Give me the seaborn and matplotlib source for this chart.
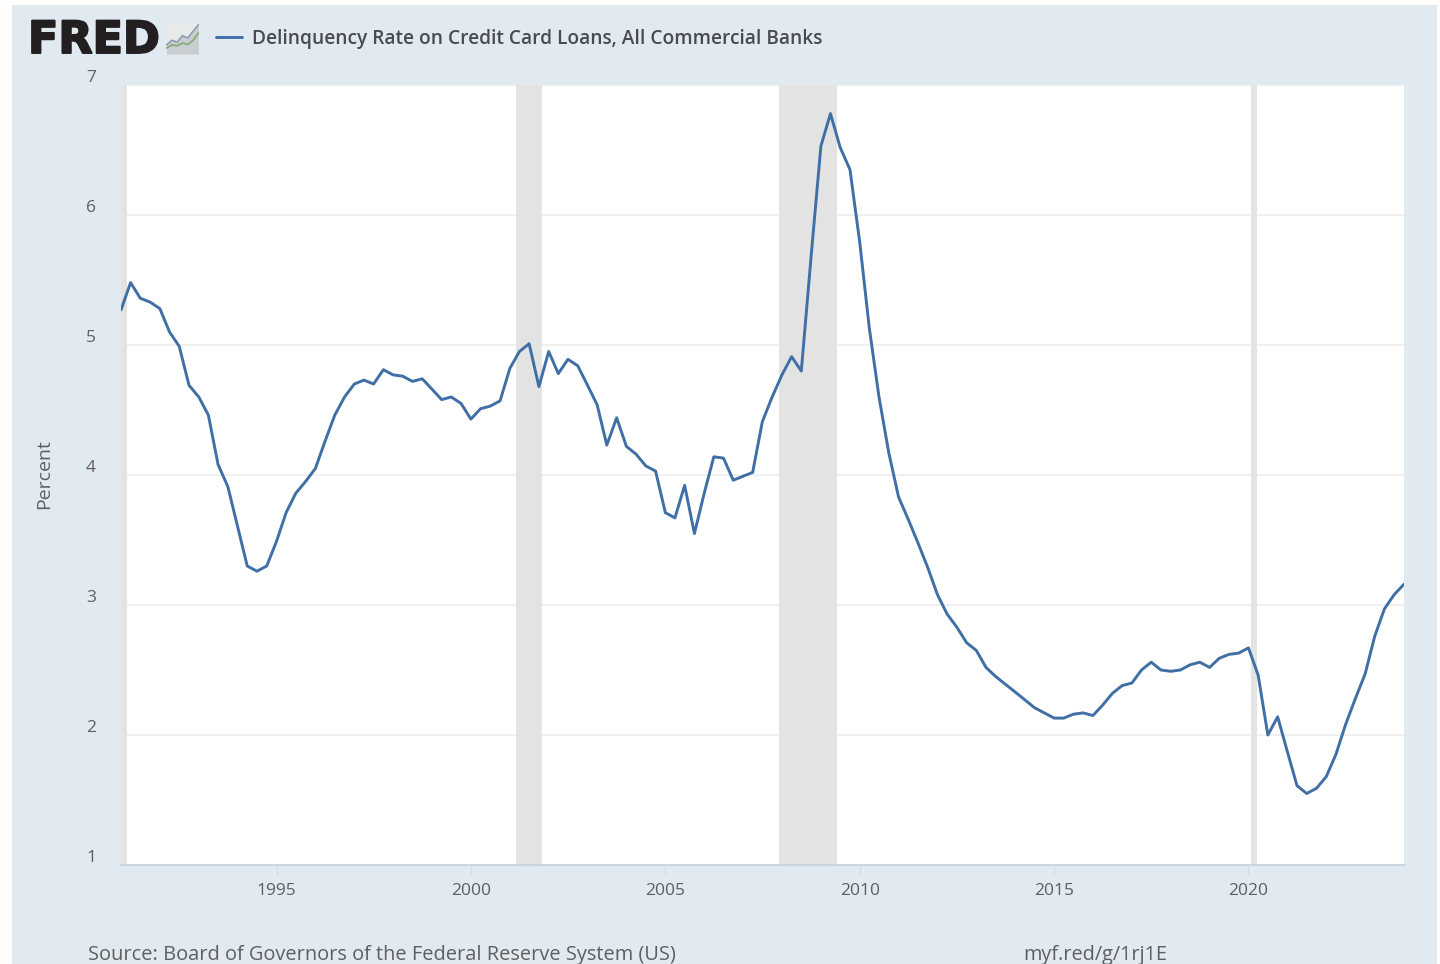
import numpy as np
import pandas as pd
import matplotlib
matplotlib.use("Agg")
import matplotlib.pyplot as plt
import matplotlib.dates as mdates
import matplotlib.patheffects as pe
from matplotlib.patches import Rectangle
from matplotlib.transforms import ScaledTranslation
import seaborn as sns

# quarterly readings, 1991Q1 to 2024Q1
rate = [
    5.27, 5.48, 5.36, 5.33,
    5.28, 5.10, 4.99, 4.69,
    4.60, 4.46, 4.08, 3.91,
    3.60, 3.30, 3.26, 3.30,
    3.49, 3.71, 3.86, 3.95,
    4.05, 4.26, 4.46, 4.60,
    4.70, 4.73, 4.70, 4.81,
    4.77, 4.76, 4.72, 4.74,
    4.66, 4.58, 4.60, 4.55,
    4.43, 4.51, 4.53, 4.57,
    4.82, 4.95, 5.01, 4.68,
    4.95, 4.78, 4.89, 4.84,
    4.69, 4.54, 4.23, 4.44,
    4.22, 4.16, 4.07, 4.03,
    3.71, 3.67, 3.92, 3.55,
    3.86, 4.14, 4.13, 3.96,
    3.99, 4.02, 4.41, 4.60,
    4.77, 4.91, 4.80, 5.68,
    6.53, 6.78, 6.52, 6.35,
    5.79, 5.13, 4.60, 4.17,
    3.83, 3.66, 3.48, 3.29,
    3.08, 2.93, 2.83, 2.71,
    2.65, 2.52, 2.45, 2.39,
    2.33, 2.27, 2.21, 2.17,
    2.13, 2.13, 2.16, 2.17,
    2.15, 2.23, 2.32, 2.38,
    2.40, 2.50, 2.56, 2.50,
    2.49, 2.50, 2.54, 2.56,
    2.52, 2.59, 2.62, 2.63,
    2.67, 2.46, 2.00, 2.14,
    1.87, 1.61, 1.55, 1.59,
    1.68, 1.85, 2.08, 2.28,
    2.47, 2.76, 2.97, 3.08,
    3.16,
]
recession_start = ["1990-07-01", "2001-03-01", "2007-12-01", "2020-01-20"]
recession_end = ["1991-03-01", "2001-11-01", "2009-06-01", "2020-03-25"]
year_ticks = [1995, 2000, 2005, 2010, 2015, 2020]
pct_ticks = [1, 2, 3, 4, 5, 6, 7]
series_name = "Delinquency Rate on Credit Card Loans, All Commercial Banks"
source_text = "Source: Board of Governors of the Federal Reserve System (US)"
short_url = "myf.red/g/1rj1E"

# little logo chart
icon_a = [1.2, 2.2, 1.8, 3.2, 2.7, 4.2, 5.6]
icon_b = [0.5, 1.2, 1, 1.6, 1.3, 2.2, 3.8]

W, H = 1440, 964
PANEL = "#e1e9f1"
BLUE = "#406fa6"
TEXT = "#5f5f5f"

df = pd.DataFrame({
    "date": pd.date_range("1991-01-01", periods=len(rate), freq="QS"),
    "rate": rate,
})

sns.set_theme(style="white")
plt.rcParams["font.family"] = ["Open Sans", "DejaVu Sans"]


def fig_box(left, top, right, bottom):
    return [left / W, 1 - bottom / H, (right - left) / W, (bottom - top) / H]


fig = plt.figure(figsize=(W / 100, H / 100), dpi=100, facecolor="#fffefc")
fig.patches.append(Rectangle((12 / W, 0), 1425 / W, 1 - 5 / H, transform=fig.transFigure,
                             facecolor=PANEL, edgecolor="none", zorder=-5))

ax = fig.add_axes(fig_box(121, 85, 1404, 865))
ax.set_facecolor("white")

sns.lineplot(data=df, x="date", y="rate", color=BLUE, linewidth=2.1, ax=ax,
             label=series_name, zorder=5)

for a, b in zip(recession_start, recession_end):
    ax.axvspan(pd.Timestamp(a), pd.Timestamp(b), color="#e3e3e3", lw=0, zorder=2)

ax.set_xlim(pd.Timestamp("1991-01-01"), pd.Timestamp("2024-01-01"))
ax.set_ylim(1, 7)
ax.set_xticks([pd.Timestamp(f"{y}-01-01") for y in year_ticks])
ax.xaxis.set_major_formatter(mdates.DateFormatter("%Y"))
ax.set_yticks(pct_ticks)
ax.grid(axis="y", color="#eeeeee", lw=1.2, zorder=1)
ax.set_axisbelow(True)
for s in ["top", "right", "left"]:
    ax.spines[s].set_visible(False)
ax.spines["bottom"].set_color("#c5d2e0")
ax.spines["bottom"].set_linewidth(1.2)
ax.tick_params(axis="x", length=7, width=1, color="#d3dde8", labelsize=12.5,
               labelcolor=TEXT, pad=6, bottom=True)
ax.tick_params(axis="y", length=0, labelsize=12.5, labelcolor=TEXT, pad=18)
# y labels sit above their gridline
for lab in ax.get_yticklabels():
    lab.set_transform(lab.get_transform() + ScaledTranslation(0, 9 / 100, fig.dpi_scale_trans))

ax.set_xlabel("")
ax.set_ylabel("Percent", fontsize=14, color=TEXT, labelpad=0)
ax.yaxis.set_label_coords(44 / W, 1 - 474 / H, transform=fig.transFigure)
ax.yaxis.label.set_va("center")

leg = ax.legend(loc="center left", bbox_to_anchor=(206 / W, 1 - 39 / H),
                bbox_transform=fig.transFigure, frameon=False, fontsize=13.75,
                handlelength=1.4, handletextpad=0.5, borderaxespad=0, borderpad=0.5)
for t in leg.get_texts():
    t.set_color("#4a4a52")
    t.set_fontweight(600)

logo = fig.text(28 / W, 1 - 53 / H, "FRED", family="DejaVu Sans", weight="bold", fontsize=32,
                color="#231f20", ha="left", va="baseline")
logo.set_path_effects([pe.withStroke(linewidth=1.4, foreground="#231f20")])

icon = fig.add_axes(fig_box(165, 23, 200, 54))
icon.set_facecolor("#e6eae8")
icon.fill_between(range(len(icon_a)), icon_a, -0.8, color="#c9ced3", lw=0)
icon.plot(icon_a, color="#8f9db0", lw=1.2)
icon.plot(icon_b, color="#86a96e", lw=1.2)
icon.set_xlim(-0.3, 6.3)
icon.set_ylim(-0.8, 6)
icon.set_xticks([])
icon.set_yticks([])
for s in icon.spines.values():
    s.set_visible(False)

fig.text(88 / W, 1 - 955 / H, source_text, fontsize=14.4, color=TEXT, ha="left", va="center")
fig.text(1023 / W, 1 - 955 / H, short_url, fontsize=14.3, color=TEXT, ha="left", va="center")

fig.savefig("out.png", dpi=100, facecolor=fig.get_facecolor())
